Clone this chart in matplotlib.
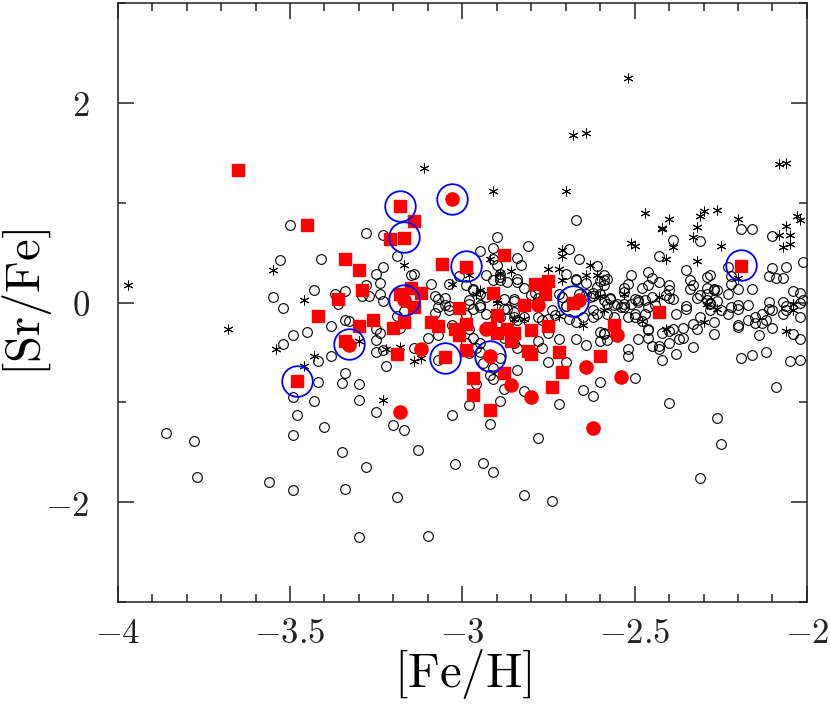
import matplotlib
matplotlib.use("Agg")
import matplotlib.pyplot as plt
from matplotlib.ticker import MultipleLocator, FuncFormatter

plt.rcParams['mathtext.fontset'] = 'cm'
plt.rcParams['font.family'] = 'serif'

# open circles: comparison sample
open_pts = [
	(-3.50,0.78),(-3.28,0.70),(-3.23,0.68),(-3.53,0.43),(-3.41,0.44),(-3.19,0.47),(-3.23,0.36),(-3.25,0.29),
	(-3.24,0.20),(-3.15,0.28),(-3.14,0.29),(-3.09,0.19),(-3.04,0.19),(-3.01,0.27),(-3.43,0.13),(-3.55,0.06),
	(-3.34,0.12),(-3.37,0.09),(-3.28,0.18),(-3.27,0.07),(-3.29,0.07),(-3.24,0.09),(-3.23,0.02),(-3.08,0.07),
	(-3.07,0.04),(-3.52,-0.05),(-3.36,-0.01),(-3.04,-0.03),
	(-3.38,-0.23),(-3.34,-0.17),(-3.33,-0.18),(-3.25,-0.26),(-3.24,-0.31),(-3.25,-0.38),(-3.25,-0.50),(-3.23,-0.48),
	(-3.22,-0.64),(-3.18,-0.25),(-3.10,-0.36),(-3.14,-0.46),(-3.07,-0.58),(-3.07,-0.33),(-3.07,-0.04),(-3.08,-0.10),
	(-3.03,-0.22),(-3.04,-0.07),(-2.99,-0.12),(-3.49,-0.33),(-3.45,-0.30),(-3.52,-0.42),(-3.38,-0.54),(-3.42,-0.59),
	(-3.34,-0.71),(-3.35,-0.81),(-3.30,-0.82),(-3.42,-0.80),(-3.49,-0.95),(-3.43,-0.99),(-3.30,-0.98),(-3.48,-1.13),
	(-3.40,-1.25),(-3.49,-1.33),(-3.25,-1.10),(-3.20,-1.23),(-3.17,-1.28),(-3.03,-1.13),(-3.86,-1.31),(-3.78,-1.39),
	(-3.77,-1.75),(-3.56,-1.80),(-3.49,-1.88),(-3.35,-1.50),(-3.28,-1.65),(-3.34,-1.87),(-3.19,-1.95),(-3.13,-1.48),
	(-3.02,-1.62),(-3.30,-2.35),(-3.10,-2.34),(-2.98,-1.03),(-3.17,-0.08),(-3.19,-0.13),
	(-2.67,0.83),(-2.90,0.66),(-2.81,0.57),(-2.95,0.52),(-2.91,0.44),(-2.90,0.38),(-2.84,0.45),(-2.83,0.38),
	(-2.69,0.54),(-2.66,0.44),(-2.89,0.26),(-2.89,0.23),(-2.84,0.24),(-2.84,0.21),(-2.82,0.15),(-2.97,0.13),
	(-3.05,0.05),(-3.05,-0.02),(-2.95,-0.04),(-2.88,0.04),(-2.87,-0.06),(-2.85,0.04),(-2.85,0.02),(-2.80,0.08),
	(-2.85,-0.14),(-2.84,-0.17),(-2.89,-0.14),(-2.78,-0.14),(-2.71,0.06),(-2.70,-0.03),(-2.64,0.09),(-2.63,0.06),
	(-2.62,-0.07),(-2.61,-0.11),(-2.62,-0.14),(-2.60,0.22),(-2.59,0.18),(-2.67,0.23),(-2.74,-0.07),(-2.73,-0.12),
	(-2.99,0.18),
	(-2.91,0.55),(-2.61,0.37),(-2.51,0.28),(-2.46,0.31),(-2.45,0.25),(-2.43,0.47),(-2.39,0.63),(-2.35,0.33),
	(-2.31,0.62),(-2.29,0.26),(-2.28,0.28),(-2.34,0.23),(-2.19,0.74),(-2.16,0.74),(-2.10,0.67),(-2.10,0.35),
	(-2.06,0.36),(-2.11,0.27),(-2.09,0.25),(-2.07,0.25),(-2.01,0.41),(-2.23,0.36),(-2.22,0.19),(-2.16,0.14),
	(-2.04,0.12),(-2.02,0.10),(-2.02,0.00),(-2.11,0.01),(-2.07,0.01),(-2.48,0.15),(-2.46,0.18),(-2.53,0.15),
	(-2.52,0.19),(-2.50,0.04),(-2.49,0.01),(-2.40,0.18),(-2.40,0.13),(-2.45,0.06),(-2.33,0.18),(-2.31,0.08),
	(-2.29,0.09),(-2.27,0.13),(-2.23,0.09),(-2.17,-0.02),(-2.20,-0.02),(-2.57,0.05),(-2.55,-0.01),(-2.59,0.23),
	(-2.58,0.24),(-2.67,0.24),(-2.70,0.29),(-2.64,0.20),(-2.62,0.10),(-2.61,0.16),(-2.60,0.09),(-2.58,-0.01),
	(-2.59,0.03),(-2.87,0.21),(-2.89,0.29),(-2.93,0.28),(-2.91,0.23),(-2.97,0.14),(-2.98,0.03),(-2.95,0.09),
	(-2.78,-0.03),(-2.79,0.10),(-2.78,0.05),(-2.70,-0.03),(-2.72,0.09),(-2.66,0.09),(-2.62,0.07),(-2.53,-0.01),
	(-2.35,-0.03),(-2.28,-0.01),
	(-2.20,0.14),(-2.22,0.27),(-2.43,0.21),(-2.29,0.15),(-2.27,0.14),(-2.26,0.13),(-2.22,-0.04),(-2.20,-0.06),
	(-2.11,-0.06),(-2.10,-0.07),(-2.06,-0.07),(-2.01,0.03),(-2.57,0.04),(-2.56,-0.02),(-2.54,-0.04),(-2.53,-0.04),
	(-2.51,-0.01),(-2.49,0.03),(-2.47,0.03),(-2.46,-0.04),(-2.44,-0.02),(-2.58,-0.11),(-2.56,-0.14),(-2.50,-0.14),
	(-2.47,-0.11),(-2.38,-0.11),(-2.35,-0.06),(-2.31,-0.14),(-2.28,-0.07),(-2.25,-0.07),(-2.23,-0.11),(-2.20,-0.22),
	(-2.17,-0.17),(-2.13,-0.11),(-2.12,-0.17),(-2.07,-0.11),(-2.02,-0.14),(-2.46,-0.26),(-2.32,-0.26),(-2.34,0.14),
	(-2.32,0.05),(-2.29,0.03),(-2.28,0.00),(-2.26,0.02),(-2.41,0.08),(-2.40,0.05),(-2.53,0.11),(-2.59,0.28),
	(-2.20,-0.24),(-2.15,-0.20),(-2.13,-0.20),(-2.10,-0.25),(-2.14,-0.33),(-2.27,-0.32),(-2.33,-0.45),(-2.38,-0.52),
	(-2.42,-0.58),(-2.37,-0.37),(-2.36,-0.36),(-2.40,-0.41),(-2.43,-0.44),(-2.43,-0.47),(-2.45,-0.44),(-2.46,-0.36),
	(-2.46,-0.28),(-2.49,-0.37),(-2.52,-0.47),(-2.52,-0.54),(-2.58,-0.38),(-2.59,-0.32),(-2.60,-0.39),(-2.50,-0.76),
	(-2.60,-0.80),(-2.40,-1.01),(-2.26,-1.16),(-2.09,-0.85),(-2.19,-0.56),(-2.16,-0.53),(-2.12,-0.50),(-2.05,-0.59),
	(-2.02,-0.58),(-2.04,-0.32),(-2.02,-0.37),(-2.39,-0.27),(-2.40,-0.29),(-2.36,-0.25),(-2.42,-0.31),
	(-2.25,-1.42),(-2.31,-1.76),(-2.78,-1.36),(-2.94,-1.61),(-2.91,-1.70),(-2.82,-1.93),(-2.74,-1.99),(-2.92,-1.22),
	(-2.89,-0.99),(-2.82,-0.89),(-2.72,-1.02),(-2.65,-0.88),(-2.62,-0.94),(-2.88,-0.87),(-2.84,-0.68),(-2.91,-0.77),
	(-2.96,-0.82),(-2.75,-0.60),(-2.70,-0.60),(-2.94,-0.61),(-2.91,-0.66),(-2.89,-0.56),(-2.95,-0.50),(-2.88,-0.36),
	(-2.85,-0.41),(-2.84,-0.46),(-2.77,-0.46),(-2.75,-0.31),(-2.78,-0.39),(-2.72,-0.37),(-2.67,-0.37),(-2.64,-0.43),
	(-2.60,-0.30),(-2.59,-0.31),(-2.15,-0.14),(-2.06,-0.03),(-2.98,-0.01),(-2.97,-0.06),(-2.95,-0.02),(-2.93,0.06),
	(-2.93,-0.11),(-2.98,-0.27),(-2.97,-0.36),(-2.99,-0.41),(-2.95,-0.41),(-2.96,-0.46),(-2.98,-0.51),(-2.92,-0.73),
	(-2.88,-0.06),(-2.85,-0.09),(-2.69,-0.16),(-2.67,-0.19),(-2.65,-0.14),(-2.52,-0.14),(-2.50,-0.11),(-2.48,-0.18),
	(-2.77,-0.17),(-2.75,-0.16),(-2.82,-0.14),(-2.33,-0.21),(-2.27,-0.19),(-2.39,0.04),
]

# asterisks
star_pts = [
	(-2.52,2.25),(-2.68,1.68),(-2.64,1.70),(-2.91,1.12),(-2.70,1.12),(-2.08,1.39),(-2.06,1.40),(-2.47,0.90),
	(-2.40,0.84),(-2.42,0.74),(-2.42,0.75),(-2.30,0.92),(-2.31,0.87),(-2.26,0.93),(-2.32,0.76),(-2.33,0.66),
	(-2.20,0.84),(-2.25,0.57),(-2.03,0.87),(-2.02,0.83),(-2.06,0.77),(-2.08,0.68),(-2.05,0.68),(-2.07,0.56),
	(-2.05,0.59),(-2.51,0.60),(-2.50,0.57),(-2.39,0.56),(-2.41,0.44),(-2.32,0.42),(-2.92,0.44),(-2.86,0.32),
	(-2.71,0.53),(-2.71,0.47),(-2.75,0.34),(-2.72,0.34),(-2.64,0.28),(-2.63,0.38),(-2.61,0.28),(-2.95,0.13),
	(-2.53,0.09),(-2.20,0.25),(-2.04,-0.01),(-2.98,0.28),(-2.04,-0.07),(-2.89,0.30),(-2.71,0.23),(-3.03,0.19),
	(-2.90,0.03),(-2.82,-0.16),(-2.72,-0.13),(-2.60,0.07),(-2.59,-0.07),(-3.55,0.33),(-3.46,0.03),(-3.17,0.38),
	(-3.11,1.35),(-3.97,0.18),(-3.68,-0.26),(-3.54,-0.47),(-3.43,-0.54),(-3.46,-0.64),(-3.30,-0.39),(-3.23,-0.98),
	(-3.22,-0.47),(-3.18,-0.45),(-3.14,-0.59),(-3.12,-0.56),(-2.96,0.09),(-2.90,0.00),(-2.85,-0.16),(-2.30,-0.19),
	(-2.06,-0.29),(-2.41,-0.27),(-2.43,0.06),(-2.29,-0.01),(-2.26,-0.06),(-2.65,-0.22),(-2.48,-0.18),
]

# red filled squares
sq_pts = [
	(-3.65,1.33),(-3.45,0.78),(-3.18,0.97),(-3.14,0.82),(-3.17,0.65),(-3.21,0.64),(-3.34,0.44),(-3.30,0.33),
	(-3.06,0.39),(-2.99,0.36),(-3.29,0.13),(-3.36,0.04),(-3.15,0.15),(-3.12,0.10),(-3.18,0.09),(-3.01,-0.05),
	(-3.14,-0.04),(-3.42,-0.13),(-3.26,-0.17),(-3.30,-0.23),(-3.20,-0.25),(-3.17,-0.19),(-3.09,-0.19),(-3.07,-0.23),
	(-3.02,-0.27),(-3.01,-0.33),(-2.99,-0.21),(-3.19,-0.52),(-3.05,-0.55),(-2.99,-0.48),(-3.48,-0.79),(-3.34,-0.39),
	(-2.91,0.10),(-2.82,-0.02),(-2.76,0.09),(-2.68,0.00),(-2.43,-0.09),(-2.90,-0.12),(-2.87,-0.26),(-2.85,-0.31),
	(-2.86,-0.39),(-2.80,-0.28),(-2.75,-0.23),(-2.56,-0.22),(-2.81,-0.49),(-2.80,-0.52),(-2.72,-0.50),(-2.60,-0.54),
	(-2.88,-0.71),(-2.71,-0.70),(-2.97,-0.76),(-2.74,-0.85),(-2.97,-0.93),(-2.92,-1.08),(-2.92,-0.25),(-2.90,-0.31),
	(-2.88,0.48),(-2.79,0.19),(-2.75,0.22),(-2.19,0.37),
]

# red filled circles
dot_pts = [
	(-3.03,1.04),(-3.17,0.03),(-3.33,-0.43),(-3.12,-0.47),(-3.18,-1.10),(-2.78,-0.02),(-2.93,-0.27),(-2.92,-0.54),
	(-2.86,-0.83),(-2.80,-0.95),(-2.64,-0.65),(-2.55,-0.33),(-2.54,-0.75),(-2.62,-1.26),(-2.66,0.03),
]

# blue rings
ring_pts = [
	(-3.18,0.97),(-3.03,1.04),(-3.17,0.66),(-2.99,0.37),(-3.17,0.03),(-2.68,0.02),(-2.19,0.38),(-3.33,-0.42),
	(-3.05,-0.56),(-2.92,-0.54),(-3.48,-0.79),
]

def xy(pts):
	return [p[0] for p in pts], [p[1] for p in pts]

fig = plt.figure(figsize=(8.3, 7.14), dpi=100)
ax = fig.add_axes([0.1418, 0.157, 0.8304, 0.8385])

x, y = xy(open_pts)
ax.plot(x, y, 'o', ms=7, mfc='none', mec='black', mew=0.8, ls='none')
x, y = xy(star_pts)
ax.plot(x, y, marker=(6, 2, 0), ms=7, color='black', mew=0.7, ls='none')
x, y = xy(sq_pts)
ax.plot(x, y, 's', ms=8.5, color='red', mec='red', ls='none')
x, y = xy(dot_pts)
ax.plot(x, y, 'o', ms=9.5, color='red', mec='red', ls='none')
x, y = xy(ring_pts)
ax.plot(x, y, 'o', ms=22, mfc='none', mec='blue', mew=1.3, ls='none')

ax.set_xlim(-4, -2)
ax.set_ylim(-3, 3)
ax.xaxis.set_major_locator(MultipleLocator(0.5))
ax.xaxis.set_minor_locator(MultipleLocator(0.1))
ax.yaxis.set_major_locator(MultipleLocator(2))
ax.yaxis.set_minor_locator(MultipleLocator(1))

def fmt(v, pos):
	return r'$%g$' % v
ax.xaxis.set_major_formatter(FuncFormatter(fmt))
ax.yaxis.set_major_formatter(FuncFormatter(fmt))

ax.tick_params(which='both', direction='in', top=True, right=True, width=1.1, colors='#222222')
ax.tick_params(which='major', length=11.5, labelsize=25)
ax.tick_params(axis='x', which='major', pad=10)
ax.tick_params(axis='y', which='major', pad=20)
ax.tick_params(which='minor', length=6)
for s in ax.spines.values():
	s.set_linewidth(1.1)
	s.set_color('#222222')

ax.set_xlabel(r'$\left[\mathrm{Fe}/\mathrm{H}\right]$', fontsize=35)
ax.set_ylabel(r'$\left[\mathrm{Sr}/\mathrm{Fe}\right]$', fontsize=35)
ax.xaxis.set_label_coords(0.5, -0.075)
ax.yaxis.set_label_coords(-0.092, 0.5)

fig.savefig('out.png', dpi=100)
